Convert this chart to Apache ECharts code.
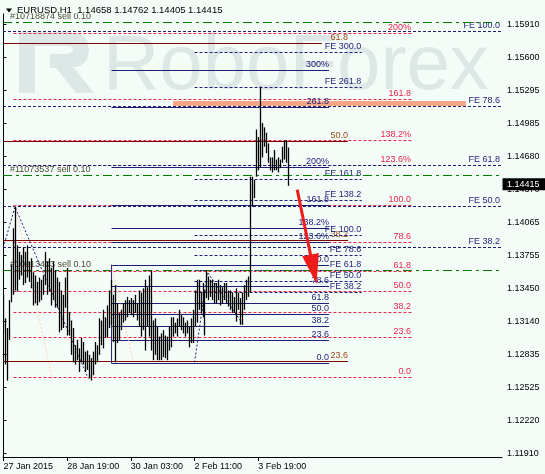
<!DOCTYPE html>
<html><head><meta charset="utf-8">
<script src="https://cdn.jsdelivr.net/npm/echarts@6/dist/echarts.min.js"></script>
<style>html,body{margin:0;padding:0;background:#f4fcf8}#c{width:545px;height:474px}</style>
</head><body><div id="c"></div><script>
// ---------------- data ----------------
const headerText = 'EURUSD,H1  1.14658 1.14762 1.14405 1.14415';
const lastClose = 1.14415;
const xTickIdx = [0, 32, 64, 96, 128];
const xTickLabels = ['27 Jan 2015', '28 Jan 19:00', '30 Jan 03:00', '2 Feb 11:00', '3 Feb 19:00'];
const yTickValues = [1.15910, 1.15600, 1.15295, 1.14985, 1.14680, 1.14370, 1.14065, 1.13755, 1.13450, 1.13140, 1.12835, 1.12525, 1.12220, 1.11910];

// H1 bars (highs / lows), one per hour starting 27 Jan 2015
const highs = [
1.1339,1.1317,1.1308,1.1334,1.1367,1.1401,1.1421,1.1385,1.1379,1.1376,
1.1383,1.1379,1.1385,1.1370,1.1373,1.1360,1.1357,1.1351,1.1355,1.1353,
1.1357,1.1379,1.1370,1.1373,1.1364,1.1370,1.1362,1.1355,1.1351,1.1343,
1.1339,1.1355,1.1364,1.1323,1.1315,1.1308,1.1292,1.1297,1.1289,1.1299,
1.1295,1.1286,1.1287,1.1283,1.1280,1.1286,1.1295,1.1292,1.1317,1.1315,
1.1325,1.1318,1.1329,1.1343,1.1353,1.1339,1.1348,1.1331,1.1322,1.1325,
1.1331,1.1334,1.1337,1.1334,1.1336,1.1334,1.1339,1.1331,1.1343,1.1341,
1.1345,1.1353,1.1346,1.1357,1.1362,1.1315,1.1317,1.1309,1.1300,1.1303,
1.1306,1.1301,1.1300,1.1309,1.1318,1.1318,1.1313,1.1317,1.1325,1.1320,
1.1318,1.1313,1.1315,1.1309,1.1317,1.1325,1.1343,1.1353,1.1353,1.1341,
1.1350,1.1343,1.1362,1.1356,1.1353,1.1353,1.1350,1.1350,1.1353,1.1348,
1.1346,1.1350,1.1350,1.1343,1.1343,1.1341,1.1337,1.1345,1.1341,1.1336,
1.1341,1.1348,1.1353,1.1356,1.1449,1.1449,1.1446,1.1493,1.1486,1.1533,
1.1499,1.1495,1.1490,1.1480,1.1467,1.1467,1.1474,1.1465,1.1467,1.1465,
1.1477,1.1483,1.1483,1.14762];
const lows = [
1.1303,1.1274,1.1259,1.1297,1.1332,1.1339,1.1343,1.1342,1.1353,1.1357,
1.1348,1.1350,1.1355,1.1351,1.1345,1.1329,1.1331,1.1329,1.1332,1.1334,
1.1339,1.1348,1.1339,1.1342,1.1329,1.1334,1.1327,1.1327,1.1304,1.1306,
1.1308,1.1327,1.1301,1.1301,1.1283,1.1276,1.1274,1.1278,1.1267,1.1276,
1.1274,1.1267,1.1269,1.1261,1.1259,1.1264,1.1274,1.1276,1.1283,1.1292,
1.1289,1.1299,1.1299,1.1308,1.1311,1.1295,1.1276,1.1294,1.1297,1.1306,
1.1313,1.1315,1.1318,1.1322,1.1320,1.1318,1.1322,1.1315,1.1309,1.1300,
1.1306,1.1287,1.1309,1.1300,1.1287,1.1278,1.1283,1.1278,1.1278,1.1278,
1.1281,1.1280,1.1278,1.1287,1.1290,1.1300,1.1303,1.1300,1.1309,1.1306,
1.1303,1.1300,1.1303,1.1290,1.1294,1.1294,1.1309,1.1313,1.1325,1.1322,
1.1318,1.1301,1.1336,1.1334,1.1337,1.1334,1.1331,1.1331,1.1334,1.1329,
1.1331,1.1334,1.1331,1.1328,1.1325,1.1322,1.1322,1.1314,1.1325,1.1311,
1.1311,1.1325,1.1334,1.1337,1.1341,1.1421,1.1429,1.1449,1.1455,1.1458,
1.1467,1.1477,1.1471,1.1462,1.1455,1.1453,1.1455,1.1455,1.1453,1.1457,
1.1462,1.1465,1.1462,1.14405];

// Fibonacci expansion (red): levels %, price at 0% / 100%, bar-index span
const redLevels = [0, 23.6, 38.2, 50, 61.8, 78.6, 100, 123.6, 138.2, 161.8, 200];
const redLabels = ['0.0', '23.6', '38.2', '50.0', '61.8', '78.6', '100.0', '123.6%', '138.2%', '161.8', '200%'];
const redBase = [1.12619, 1.14222];
const redSpan = [5, 205.3];

// FE set across whole chart (navy dashed)
const fe2Levels = [38.2, 50, 61.8, 78.6, 100];
const fe2Labels = ['FE 38.2', 'FE 50.0', 'FE 61.8', 'FE 78.6', 'FE 100.0'];
const fe2Base = [1.12586, 1.15848];

// FE set, short (navy dashed)
const fe1Levels = [38.2, 50, 61.8, 78.6, 100, 138.2, 161.8, 261.8, 300];
const fe1Labels = ['FE 38.2', 'FE 50.0', 'FE 61.8', 'FE 78.6', 'FE 100.0', 'FE 138.2', 'FE 161.8', 'FE 261.8', 'FE 300.0'];
const fe1Base = [1.13092, 1.13945];
const fe1Span = [96, 180];

// Fibo retracement (navy solid)
const navyLevels = [0, 23.6, 38.2, 50, 61.8, 78.6, 100, 123.6, 138.2, 161.8, 200, 261.8, 300];
const navyLabels = ['0.0', '23.6', '38.2', '50.0', '61.8', '78.6', '100.0', '123.6%', '138.2%', '161.8', '200%', '261.8', '300%'];
const navyBase = [1.12752, 1.13664];
const navySpan = [54.3, 163.6];

// Fibo retracement (maroon solid)
const maroonLevels = [23.6, 38.2, 50, 61.8];
const maroonLabels = ['23.6', '38.2', '50.0', '61.8'];
const maroonBase = [1.10942, 1.18698];
const maroonSpan = [-0.25, 173.1];

// open orders (green dash-dot)
const orderPrices = [1.15929, 1.14506, 1.13621];
const orderLabels = ['#10718874 sell 0.10', '#11073537 sell 0.10', '#10913403 sell 0.10'];

// target zone (salmon band)
const zonePrices = [1.15149, 1.15196];
const zoneSpan = [85.2, 232.4];

// wave paths
const navyPath1 = [[-0.1, 1.1383], [5.8, 1.1421], [42.6, 1.1261]];
const navyPath2 = [[96.0, 1.1276], [102.5, 1.1360], [120.5, 1.1311]];
const peachPath1 = [[5.8, 1.1422], [24.4, 1.1261]];
const peachPath2 = [[54.3, 1.1367], [65.2, 1.1276]];
const navyEdge = [[54.3, 1.1367], [54.3, 1.1275]];
const arrowPath = [[147.6, 1.1437], [157.3, 1.1349]];

// ---------------- chart ----------------
const X_MIN = -0.25, X_MAX = 250.5, Y_MIN = 1.11878, Y_MAX = 1.16137;
const FONT = '"Liberation Sans", Arial, sans-serif';
const RED = '#e8254c', NAVY = '#1f1f78', MAROON = '#800000', MAROON_TXT = '#9a4a18', GREEN = '#008000';
const BG = '#f4fcf8', WM = '#dde7e6';

function fibSeries(cfg) {
  const {levels, labels, base, span, color, dash, labelColor, labelPos, endIdx} = cfg;
  return {
    type: 'custom', silent: true, z: 2, clip: false,
    data: levels.map((lv, i) => [span[0], base[0] + lv / 100 * (base[1] - base[0]), i]),
    encode: {x: 0, y: 1},
    renderItem(params, api) {
      const i = api.value(2);
      const price = api.value(1);
      const end = endIdx ? endIdx(levels[i]) : span[1];
      const a = api.coord([span[0], price]);
      const b = api.coord([end, price]);
      const bl = api.coord([span[1], price]);
      const y = Math.round(a[1]) + 0.5;
      const lp = labelPos(a, bl, levels[i]);
      return {type: 'group', children: [
        {type: 'line', shape: {x1: a[0], y1: y, x2: b[0], y2: y}, style: {stroke: color, lineWidth: 1, lineDash: dash || null}},
        {type: 'text', x: lp.x, y: y - 1, style: {text: labels[i], fill: labelColor, fontSize: 9, fontFamily: FONT, align: lp.align, verticalAlign: 'bottom'}}
      ]};
    }
  };
}

function pathSeries(data, color, width, type) {
  return {type: 'line', data, showSymbol: false, silent: true, z: 2,
    lineStyle: {color, width, type}, animation: false};
}

const series = [
  // salmon zone
  {type: 'custom', silent: true, z: 1, data: [[zoneSpan[0], zonePrices[1], zonePrices[0]]], encode: {x: 0, y: 1},
   renderItem(params, api) {
     const a = api.coord([zoneSpan[0], api.value(1)]);
     const b = api.coord([zoneSpan[1], api.value(2)]);
     return {type: 'rect', shape: {x: a[0], y: a[1], width: b[0] - a[0], height: b[1] - a[1]}, style: {fill: '#f6a686'}};
   }},
  fibSeries({levels: maroonLevels, labels: maroonLabels, base: maroonBase, span: maroonSpan, color: MAROON, labelColor: MAROON_TXT,
    endIdx: lv => lv === 61.8 ? 160 : maroonSpan[1],
    labelPos: (a, b) => ({x: b[0], align: 'right'})}),
  fibSeries({levels: redLevels, labels: redLabels, base: redBase, span: redSpan, color: RED, dash: [3, 2], labelColor: RED,
    labelPos: (a, b) => ({x: b[0] - 1, align: 'right'})}),
  fibSeries({levels: fe2Levels, labels: fe2Labels, base: fe2Base, span: [X_MIN, X_MAX], color: NAVY, dash: [3, 2], labelColor: NAVY,
    labelPos: (a, b) => ({x: b[0] - 2, align: 'right'})}),
  fibSeries({levels: fe1Levels, labels: fe1Labels, base: fe1Base, span: fe1Span, color: NAVY, dash: [3, 2], labelColor: NAVY,
    labelPos: (a, b, lv) => ({x: b[0] - (lv <= 78.6 ? 32 : 37), align: 'left'})}),
  fibSeries({levels: navyLevels, labels: navyLabels, base: navyBase, span: navySpan, color: NAVY, labelColor: NAVY,
    labelPos: (a, b) => ({x: b[0], align: 'right'})}),
  fibSeries({levels: [0, 1, 2], labels: orderLabels, base: [orderPrices[0], orderPrices[0]], span: [X_MIN, X_MAX], color: GREEN,
    dash: [9, 4, 3, 4], labelColor: '#4a4a36', labelPos: (a) => ({x: a[0] + 7, align: 'left'})}),
  pathSeries(navyPath1, NAVY, 1, [2, 2]),
  pathSeries(navyPath2, NAVY, 1, [2, 2]),
  pathSeries(peachPath1, '#ffd2b0', 1, [2, 2]),
  pathSeries(peachPath2, '#ffd2b0', 1, [2, 2]),
  pathSeries(navyEdge, NAVY, 1, 'solid'),
  // price bars
  {type: 'custom', silent: true, z: 4, clip: true,
   data: highs.map((h, i) => [i, lows[i], h]), encode: {x: 0, y: [1, 2]},
   renderItem(params, api) {
     const lo = api.coord([api.value(0), api.value(1)]);
     const hi = api.coord([api.value(0), api.value(2)]);
     const x = Math.round(lo[0]) + 0.5;
     return {type: 'line', shape: {x1: x, y1: lo[1], x2: x, y2: hi[1]}, style: {stroke: '#000', lineWidth: 1.3}};
   }},
  // red arrow
  {type: 'custom', silent: true, z: 6, clip: false,
   data: [[arrowPath[0][0], arrowPath[0][1], arrowPath[1][0], arrowPath[1][1]]], encode: {x: 0, y: 1},
   renderItem(params, api) {
     const a = api.coord([api.value(0), api.value(1)]);
     const b = api.coord([api.value(2), api.value(3)]);
     const dx = b[0] - a[0], dy = b[1] - a[1], L = Math.hypot(dx, dy), ux = dx / L, uy = dy / L, px = -uy, py = ux;
     const hl = 30, hw = 8.5, bx = b[0] - ux * hl, by = b[1] - uy * hl;
     return {type: 'group', children: [
       {type: 'line', shape: {x1: a[0], y1: a[1], x2: bx + ux * 3, y2: by + uy * 3}, style: {stroke: '#f01c1c', lineWidth: 3}},
       {type: 'polygon', shape: {points: [[b[0], b[1]], [bx + px * hw, by + py * hw], [bx - px * hw, by - py * hw]]}, style: {fill: '#f01c1c'}}
     ]};
   }},
  // current price box
  {type: 'custom', silent: true, z: 8, clip: false, data: [[X_MAX, lastClose]], encode: {x: 0, y: 1},
   renderItem(params, api) {
     const p = api.coord([api.value(0), api.value(1)]);
     return {type: 'group', children: [
       {type: 'rect', shape: {x: p[0] + 0.5, y: p[1] - 6.5, width: 44, height: 12}, style: {fill: '#000'}},
       {type: 'text', x: p[0] + 5, y: p[1], style: {text: lastClose.toFixed(5), fill: '#fff', fontSize: 9, fontFamily: FONT, align: 'left', verticalAlign: 'middle'}}
     ]};
   }}
];
// orders: give each its own price
series[6].data = orderPrices.map((p, i) => [X_MIN, p, i]);

const chart = echarts.init(document.getElementById('c'), null, {renderer: 'canvas'});
chart.setOption({
  animation: false,
  backgroundColor: BG,
  grid: {left: 3, right: 43, top: 0, bottom: 17},
  xAxis: {
    type: 'value', min: X_MIN, max: X_MAX,
    axisLine: {show: true, lineStyle: {color: '#000', width: 1}},
    axisTick: {show: true, customValues: xTickIdx, length: 4, lineStyle: {color: '#000'}},
    axisLabel: {customValues: xTickIdx, formatter: v => xTickLabels[xTickIdx.indexOf(Math.round(v))] || '',
      align: 'left', margin: 5, color: '#000', fontSize: 9, fontFamily: FONT},
    splitLine: {show: false}
  },
  yAxis: [{
    type: 'value', position: 'right', min: Y_MIN, max: Y_MAX, scale: true,
    axisLine: {show: true, lineStyle: {color: '#000', width: 1}},
    axisTick: {show: true, customValues: yTickValues, length: 3, lineStyle: {color: '#000'}},
    axisLabel: {customValues: yTickValues, formatter: v => v.toFixed(5), margin: 5, color: '#000', fontSize: 9, fontFamily: FONT},
    splitLine: {show: false}
  }, {
    type: 'value', position: 'left', min: Y_MIN, max: Y_MAX, scale: true,
    axisLine: {show: true, onZero: false, lineStyle: {color: '#000', width: 1}},
    axisTick: {show: false}, axisLabel: {show: false}, splitLine: {show: false}
  }],
  graphic: [
    // watermark logo
    {type: 'rect', z: -10, shape: {x: 19, y: 32, width: 16, height: 61}, style: {fill: WM}},
    {type: 'polygon', z: -10, shape: {points: [[35, 32], [70, 32], [80, 34], [87, 40], [89, 50], [87, 60], [80, 66], [70, 68], [50, 68], [50, 54], [68, 54], [72, 52], [73, 50], [72, 47], [68, 46], [35, 46]]}, style: {fill: WM}},
    {type: 'polygon', z: -10, shape: {points: [[56, 68], [74, 68], [94, 93], [76, 93]]}, style: {fill: WM}},
    {type: 'text', z: -10, left: 103, top: 28, style: {text: 'RoboForex', fontSize: 78, fontFamily: FONT, fill: WM}},
    {type: 'rect', z: 100, shape: {x: 0, y: 0, width: 222, height: 13.5}, style: {fill: BG}},
    {type: 'polygon', z: 101, shape: {points: [[6, 8.5], [12, 8.5], [9, 12.5]]}, style: {fill: '#000'}},
    {type: 'text', z: 101, x: 17, y: 10.5, style: {text: headerText, fontSize: 9.5, fontFamily: FONT, fill: '#000', verticalAlign: 'middle'}}
  ],
  series
});
</script></body></html>
